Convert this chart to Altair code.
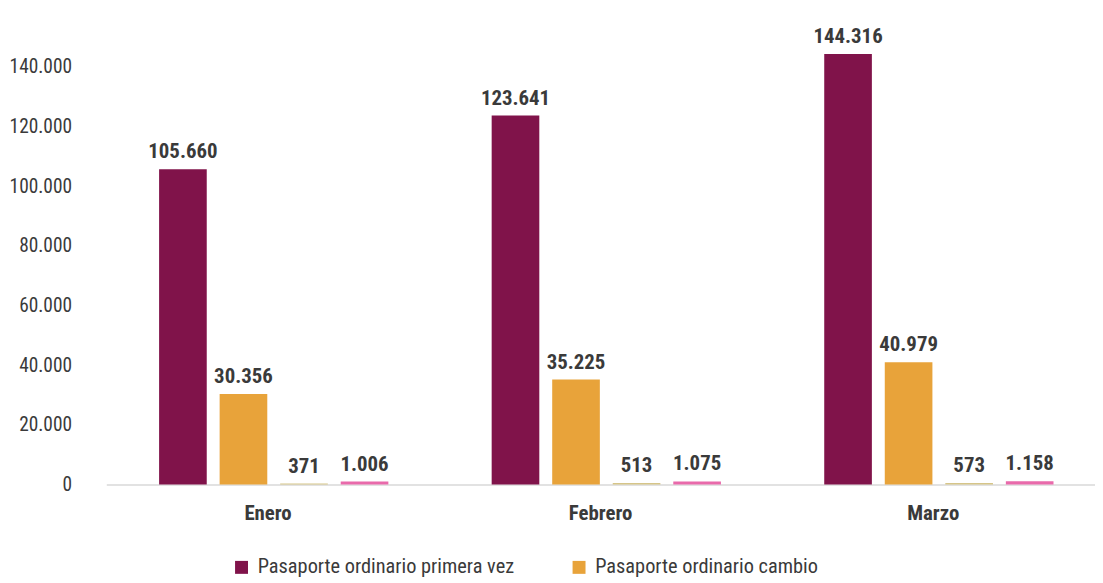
import altair as alt
import pandas as pd

months = ["Enero", "Febrero", "Marzo"]
series = [
    "Pasaporte ordinario primera vez",
    "Pasaporte ordinario cambio",
    "Pasaporte oficial",
    "Pasaporte diplomático",
]
colors = ["#80134a", "#e8a33a", "#d6c588", "#e96aab"]
primera_vez = [105660, 123641, 144316]
cambio = [30356, 35225, 40979]
oficial = [371, 513, 573]
diplomatico = [1006, 1075, 1158]
y_ticks = [0, 20000, 40000, 60000, 80000, 100000, 120000, 140000]

rows = []
for s, vals in zip(series, [primera_vez, cambio, oficial, diplomatico]):
    for m, v in zip(months, vals):
        rows.append({"mes": m, "serie": s, "valor": v,
                     "etiqueta": f"{v:,}".replace(",", ".")})
df = pd.DataFrame(rows)

FONT = "Roboto Condensed"
TXT = "#3a3a3a"

x = alt.X("mes:N", sort=months, title=None,
          scale=alt.Scale(paddingInner=0.027, paddingOuter=0),
          axis=alt.Axis(labelAngle=0, ticks=False, labelPadding=18,
                        labelFont=FONT, labelFontSize=21, labelFontWeight="bold",
                        labelColor=TXT, domainColor="#d9d9d9", domainWidth=1.5))
xo = alt.XOffset("serie:N", sort=series,
                 scale=alt.Scale(paddingInner=0.213, paddingOuter=0.779, align=0.56))
y = alt.Y("valor:Q", title=None,
          scale=alt.Scale(domain=[0, 157000], nice=False),
          axis=alt.Axis(values=y_ticks,
                        labelExpr="replace(format(datum.value, ','), ',', '.')",
                        grid=False, domain=False, ticks=False, labelPadding=35,
                        labelFont=FONT, labelFontSize=19.5, labelColor=TXT))
color = alt.Color("serie:N", sort=series,
                  scale=alt.Scale(domain=series, range=colors),
                  legend=alt.Legend(values=series[:2], title=None, orient="none",
                                    legendX=126, legendY=545, direction="horizontal",
                                    symbolType="square", symbolSize=170,
                                    symbolStrokeWidth=0, labelFont=FONT,
                                    labelFontSize=20.5, labelColor=TXT, labelLimit=500,
                                    labelOffset=6, columnPadding=55))

bars = alt.Chart(df).mark_bar().encode(x=x, xOffset=xo, y=y, color=color)
labels = alt.Chart(df).mark_text(baseline="alphabetic", dy=-11, font=FONT,
                                 fontSize=21, fontWeight="bold", color=TXT).encode(
    x=x, xOffset=xo, y=y, text="etiqueta:N")

chart = alt.layer(bars, labels).properties(
    width=996, height=472, background="white",
    autosize=alt.AutoSizeParams(type="none"),
    padding={"top": 6, "left": 99, "right": 0, "bottom": 96},
).configure_view(stroke=None)

chart.save("out.html", embed_options={"renderer": "svg", "actions": False})
